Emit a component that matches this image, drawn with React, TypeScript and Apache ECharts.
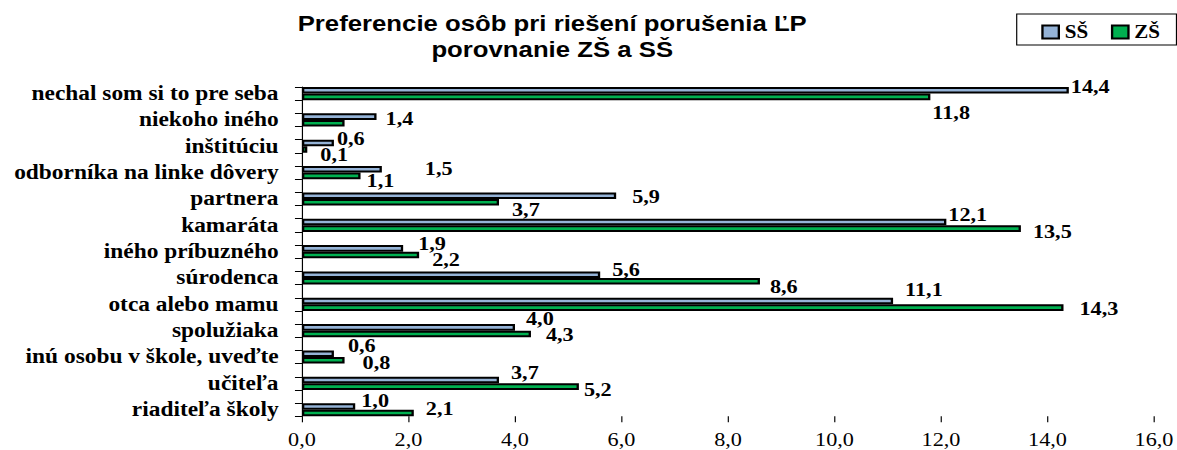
import React, { useEffect, useRef } from "react";
import * as echarts from "echarts";

// ---- data (top to bottom, as in the picture) ----
const categories = [
  "nechal som si to pre seba",
  "niekoho iného",
  "inštitúciu",
  "odborníka na linke dôvery",
  "partnera",
  "kamaráta",
  "iného príbuzného",
  "súrodenca",
  "otca alebo mamu",
  "spolužiaka",
  "inú osobu v škole, uveďte",
  "učiteľa",
  "riaditeľa školy",
];
const seriesNames = ["SŠ", "ZŠ"];
const ssValues = [14.4, 1.4, 0.6, 1.5, 5.9, 12.1, 1.9, 5.6, 11.1, 4.0, 0.6, 3.7, 1.0];
const zsValues = [11.8, 0.8, 0.1, 1.1, 3.7, 13.5, 2.2, 8.6, 14.3, 4.3, 0.8, 5.2, 2.1];
const xMin = 0;
const xMax = 16;
const xStep = 2;

// ---- label nudges (screen px, relative to the library's label anchor) ----
const ssLabelShift: (number[] | null)[] = [
  [2, -4], [9, 2], [3, -4], [43, -1], [16, 1], [2, -7], [15, -5],
  [12, -5], [12, -11], [11, -9], [14, -8], [12, -8], [6, -6],
];
const zsLabelShift: (number[] | null)[] = [
  [2, 16], null, [13, 5], [6, 5], [13, 7], [12, 3], [13, 5],
  [10, 5], [16, 1], [15, 1], [18, 2], [5, 3], [12, -4],
];

const FULL_W = 1177;
const BASE_W = 1006;
const STRETCH = FULL_W / BASE_W;

function interleave<T>(arr: T[], filler: T): T[] {
  const out: T[] = [];
  arr.forEach((v, i) => {
    out.push(v);
    if (i < arr.length - 1) out.push(filler);
  });
  return out;
}

const fmt = (v: number) => Number(v).toFixed(1).replace(".", ",");
const serif = "Liberation Serif";
const sans = "Liberation Sans";

export default function App() {
  const ref = useRef<HTMLDivElement>(null);

  useEffect(() => {
    if (!ref.current) return;
    const chart = echarts.init(ref.current, null, { renderer: "svg" });

    const makeData = (vals: number[], shifts: (number[] | null)[]) =>
      interleave<any>(
        vals.map((v, i) => {
          const s = shifts[i];
          return s
            ? { value: v, label: { offset: [s[0] / STRETCH, s[1]] } }
            : { value: v, label: { show: false } };
        }),
        "-"
      );

    const yCats = interleave(categories, "");

    const labelCommon = {
      show: true,
      position: "right",
      distance: 0,
      formatter: (p: any) => fmt(p.value),
      fontFamily: serif,
      fontWeight: "bold",
      fontSize: 19,
      lineHeight: 14,
      color: "#000",
    };

    chart.setOption({
      animation: false,
      backgroundColor: "#fff",
      graphic: [
        {
          type: "text",
          x: 472,
          y: 36.5,
          style: {
            text: "Preferencie osôb pri riešení porušenia ĽP\nporovnanie ZŠ a SŠ",
            fontFamily: sans,
            fontWeight: "bold",
            fontSize: 22,
            lineHeight: 26,
            fill: "#000",
            align: "center",
            verticalAlign: "middle",
          },
        },
      ],
      legend: {
        data: seriesNames,
        left: 869,
        top: 14,
        padding: [9, 14, 4, 21],
        itemWidth: 14,
        itemHeight: 13,
        itemGap: 19.5,
        icon: "rect",
        borderColor: "#000",
        borderWidth: 1,
        textStyle: {
          fontFamily: serif,
          fontWeight: "bold",
          fontSize: 18,
          color: "#000",
        },
      },
      grid: {
        left: 258.1,
        right: BASE_W - 987.4,
        top: 87,
        bottom: 33.7,
        containLabel: false,
      },
      xAxis: {
        type: "value",
        min: xMin,
        max: xMax,
        interval: xStep,
        axisLine: { show: false },
        axisTick: { show: true, length: 6, lineStyle: { color: "#000", width: 1 } },
        splitLine: { show: false },
        axisLabel: {
          formatter: (v: number) => fmt(v),
          fontFamily: serif,
          fontSize: 19,
          color: "#000",
          margin: 14,
        },
      },
      yAxis: {
        type: "category",
        inverse: true,
        data: yCats,
        boundaryGap: true,
        axisLine: { show: true, lineStyle: { color: "#000", width: 1 } },
        axisTick: { show: true, interval: 0, length: 6, lineStyle: { color: "#000", width: 1 } },
        axisLabel: {
          interval: 0,
          fontFamily: serif,
          fontWeight: "bold",
          fontSize: 20,
          color: "#000",
          margin: 20,
        },
        splitLine: { show: false },
      },
      series: [
        {
          name: seriesNames[0],
          type: "bar",
          data: makeData(ssValues, ssLabelShift),
          barGap: "0%",
          barCategoryGap: "0%",
          itemStyle: { color: "#95b3d7", borderColor: "#000", borderWidth: 2 },
          label: labelCommon,
        },
        {
          name: seriesNames[1],
          type: "bar",
          data: makeData(zsValues, zsLabelShift),
          barGap: "0%",
          barCategoryGap: "0%",
          itemStyle: { color: "#00b050", borderColor: "#000", borderWidth: 2 },
          label: labelCommon,
        },
      ],
    });

    return () => chart.dispose();
  }, []);

  return (
    <div
      style={{
        position: "absolute",
        left: 0,
        top: 0,
        width: FULL_W,
        height: 450,
        overflow: "hidden",
        background: "#fff",
      }}
    >
      <div
        ref={ref}
        style={{
          width: BASE_W,
          height: 450,
          transform: `scaleX(${STRETCH})`,
          transformOrigin: "0 0",
        }}
      />
    </div>
  );
}
